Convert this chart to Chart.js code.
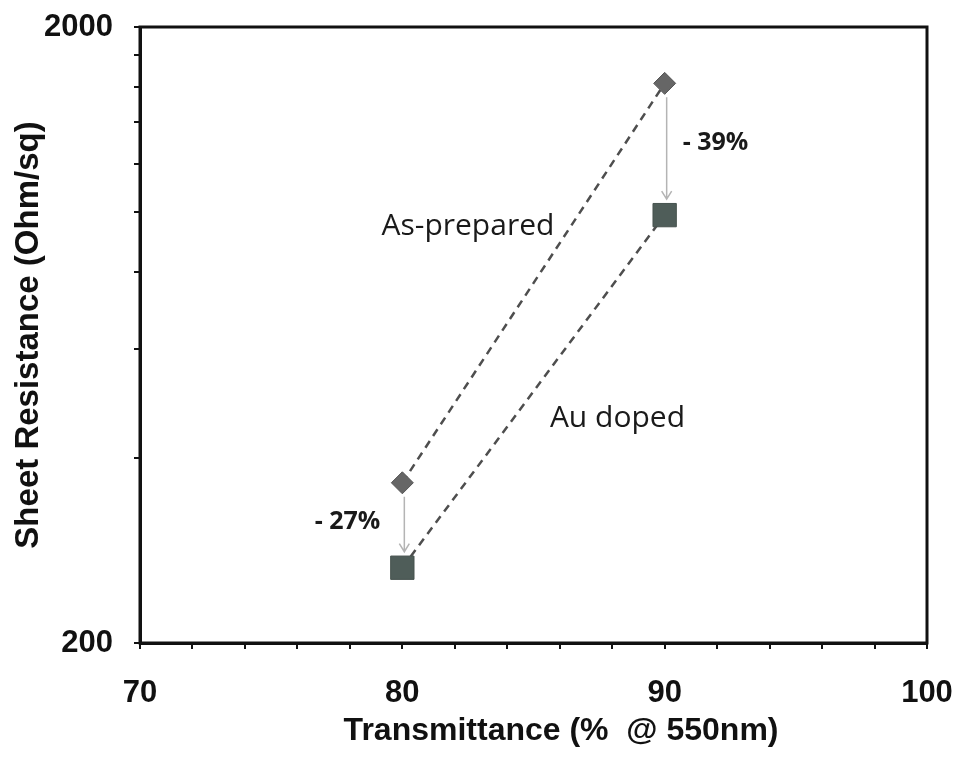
<!DOCTYPE html>
<html>
<head>
<meta charset="utf-8">
<script src="https://cdn.jsdelivr.net/npm/chart.js@4/dist/chart.umd.min.js"></script>
<style>
  html, body { margin: 0; padding: 0; background: #fff; }
  #wrap { width: 957px; height: 757px; }
</style>
</head>
<body>
<div id="wrap"><canvas id="srChart" width="957" height="757"></canvas></div>
<script>
// transmittance (%) of the two films
const transmittance = [80, 90];
// sheet resistance, Ohm/sq
const asPrepared = [364, 1620];
const auDoped = [265, 990];
const changeLabels = ['- 27%', '- 39%'];
const seriesNames = ['As-prepared', 'Au doped'];

const yTicks = [200, 400, 600, 800, 1000, 1200, 1400, 1600, 1800, 2000];
const yLabeled = [200, 2000];
const xTicks = [70, 72, 74, 76, 78, 80, 82, 84, 86, 88, 90, 92, 94, 96, 98, 100];
const xLabeled = [70, 80, 90, 100];
const xTitle = 'Transmittance (%  @ 550nm)';

const sansBold = 'Liberation Sans, Arial, sans-serif';
const tickFont = { family: sansBold, size: 31, weight: 'bold' };
const noteFont = '"Open Sans", sans-serif';

const toPts = (ys) => transmittance.map((x, i) => ({ x: x, y: ys[i] }));

// frame, arrows and labels drawn on top of the chart
const overlay = {
  id: 'overlay',
  afterDatasetsDraw(chart) {
    const { ctx, chartArea: a, scales: { x, y } } = chart;
    ctx.save();
    ctx.strokeStyle = '#111';
    ctx.lineWidth = 3;
    ctx.strokeRect(a.left, a.top, a.right - a.left, a.bottom - a.top);

    // drop arrows from as-prepared to Au doped
    ctx.strokeStyle = '#b4b4b4';
    ctx.lineWidth = 1.5;
    transmittance.forEach((t, i) => {
      const px = x.getPixelForValue(t) + 2;
      const y0 = y.getPixelForValue(asPrepared[i]) + 14;
      const y1 = y.getPixelForValue(auDoped[i]) - 16;
      ctx.beginPath();
      ctx.moveTo(px, y0);
      ctx.lineTo(px, y1);
      ctx.moveTo(px - 5, y1 - 8);
      ctx.lineTo(px, y1);
      ctx.lineTo(px + 5, y1 - 8);
      ctx.stroke();
    });

    ctx.fillStyle = '#1a1a1a';
    ctx.textBaseline = 'middle';
    ctx.font = 'bold 25px ' + noteFont;
    // -27% sits left of the low pair, -39% right of the high pair
    const lowX = x.getPixelForValue(transmittance[0]);
    const lowMid = (y.getPixelForValue(asPrepared[0]) + y.getPixelForValue(auDoped[0])) / 2;
    ctx.textAlign = 'right';
    ctx.fillText(changeLabels[0], lowX - 22, lowMid - 3);
    const highX = x.getPixelForValue(transmittance[1]);
    const highMid = (y.getPixelForValue(asPrepared[1]) + y.getPixelForValue(auDoped[1])) / 2;
    ctx.textAlign = 'left';
    ctx.fillText(changeLabels[1], highX + 18, highMid - 6);

    ctx.font = '30px ' + noteFont;
    ctx.textAlign = 'center';
    ctx.fillText(seriesNames[0], x.getPixelForValue(82.5), y.getPixelForValue(950));
    ctx.fillText(seriesNames[1], x.getPixelForValue(88.2), y.getPixelForValue(463));

    // x axis title, set a little right of centre
    ctx.fillStyle = '#111';
    ctx.font = 'bold 32px ' + sansBold;
    ctx.fillText(xTitle, x.getPixelForValue(86.05), 731);
    ctx.restore();
  }
};

new Chart(document.getElementById('srChart'), {
  type: 'scatter',
  data: {
    datasets: [
      {
        label: seriesNames[0],
        data: toPts(asPrepared),
        showLine: true,
        borderColor: '#4e4e4e',
        borderWidth: 2.5,
        borderDash: [8, 6],
        pointStyle: 'rectRot',
        pointRadius: 11,
        pointBackgroundColor: '#666666',
        pointBorderColor: '#555555',
        pointBorderWidth: 1
      },
      {
        label: seriesNames[1],
        data: toPts(auDoped),
        showLine: true,
        borderColor: '#4e4e4e',
        borderWidth: 2.5,
        borderDash: [8, 6],
        pointStyle: 'rect',
        pointRadius: 16.5,
        pointBackgroundColor: '#4f5d59',
        pointBorderColor: '#47534f',
        pointBorderWidth: 1
      }
    ]
  },
  options: {
    responsive: false,
    animation: false,
    layout: { padding: { top: 27, right: 30, bottom: 0, left: 0 } },
    plugins: { legend: { display: false }, tooltip: { enabled: false } },
    scales: {
      x: {
        type: 'linear',
        min: 70,
        max: 100,
        afterBuildTicks: (s) => { s.ticks = xTicks.map(v => ({ value: v })); },
        afterFit: (s) => { s.height = 114; s.paddingLeft = 0; s.paddingRight = 0; },
        ticks: {
          color: '#111',
          font: tickFont,
          padding: 26,
          maxRotation: 0,
          autoSkip: false,
          callback: (v) => xLabeled.includes(v) ? String(v) : ''
        },
        grid: { drawOnChartArea: false, color: '#111', lineWidth: 2, tickLength: 6 },
        border: { color: '#111', width: 3 }
      },
      y: {
        type: 'logarithmic',
        min: 200,
        max: 2000,
        afterBuildTicks: (s) => { s.ticks = yTicks.map(v => ({ value: v })); },
        afterFit: (s) => { s.width = 140; s.paddingTop = 0; s.paddingBottom = 0; },
        ticks: {
          color: '#111',
          font: tickFont,
          padding: 21,
          autoSkip: false,
          callback: (v) => yLabeled.includes(v) ? String(v) : ''
        },
        grid: { drawOnChartArea: false, color: '#111', lineWidth: 2, tickLength: 6 },
        border: { color: '#111', width: 3 },
        title: {
          display: true,
          text: 'Sheet Resistance (Ohm/sq)',
          color: '#111',
          font: { family: sansBold, size: 33, weight: 'bold', lineHeight: 1 },
          padding: { top: 12, bottom: 0 }
        }
      }
    }
  },
  plugins: [overlay]
});
</script>
</body>
</html>
